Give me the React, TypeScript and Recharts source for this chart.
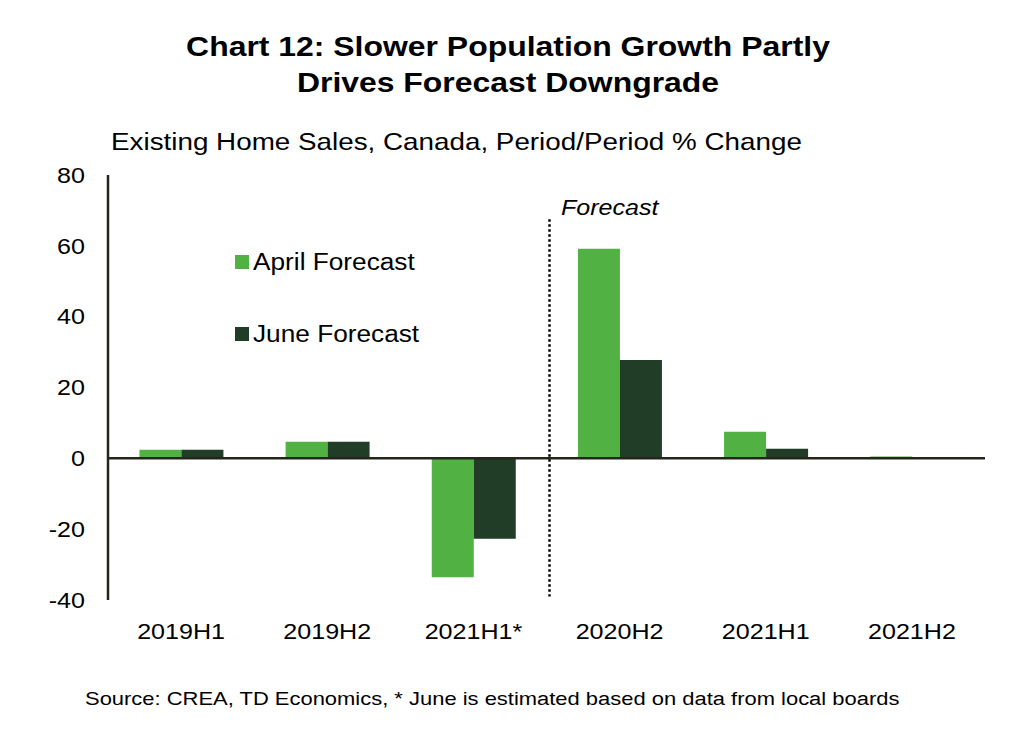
import { Bar, BarChart, Legend, ReferenceLine, XAxis, YAxis } from 'recharts';

const categories = ['2019H1', '2019H2', '2021H1*', '2020H2', '2021H1', '2021H2'];
const aprilForecast = [2.4, 4.7, -33.6, 59.2, 7.5, 0.5];
const juneForecast = [2.4, 4.7, -22.7, 27.8, 2.7, 0.1];
const yTicks = [-40, -20, 0, 20, 40, 60, 80];

const APRIL = '#52B143';
const JUNE = '#213C27';
const AXIS = '#25261A';
const FONT = '"Liberation Sans", Arial, sans-serif';
// the reference text is a little wider than Liberation Sans at the same height
const STRETCH = 1.14;

const data = categories.map((c, i) => ({ name: c, april: aprilForecast[i], june: juneForecast[i] }));

function XTick({ x, y, payload }: { x?: number; y?: number; payload?: { value: string } }) {
  return (
    <text
      transform={`translate(${x},${y}) scale(${STRETCH},1)`}
      textAnchor="middle"
      dy="0.71em"
      fontSize={22}
      fontFamily={FONT}
      fill="#000"
    >
      {payload?.value}
    </text>
  );
}

function YTick({ x, y, payload }: { x?: number; y?: number; payload?: { value: number } }) {
  return (
    <text
      transform={`translate(${x},${y}) scale(${STRETCH},1)`}
      textAnchor="end"
      dy="0.355em"
      fontSize={22}
      fontFamily={FONT}
      fill="#000"
    >
      {payload?.value}
    </text>
  );
}

function LegendBox() {
  const items = [
    { label: 'April Forecast', color: APRIL },
    { label: 'June Forecast', color: JUNE },
  ];
  return (
    <div style={{ fontFamily: FONT, fontSize: 23, color: '#000' }}>
      {items.map((it) => (
        <div key={it.label} style={{ display: 'flex', alignItems: 'center', height: 28, marginBottom: 44 }}>
          <span style={{ width: 14, height: 14, background: it.color, marginRight: 4, flex: 'none' }} />
          <span style={{ display: 'inline-block', transform: `scaleX(${STRETCH})`, transformOrigin: 'left' }}>
            {it.label}
          </span>
        </div>
      ))}
    </div>
  );
}

const stretchLeft = { transform: `scaleX(${STRETCH})`, transformOrigin: 'left', whiteSpace: 'nowrap' as const };

export default function App() {
  return (
    <div
      style={{
        position: 'absolute',
        left: 0,
        top: 0,
        width: 1032,
        height: 734,
        background: '#fff',
        fontFamily: FONT,
        color: '#000',
      }}
    >
      <div
        style={{
          position: 'absolute',
          left: 0,
          width: 1016,
          top: 29,
          textAlign: 'center',
          fontWeight: 'bold',
          fontSize: 28,
          lineHeight: '36px',
          transform: `scaleX(${STRETCH})`,
          transformOrigin: '508px 0',
        }}
      >
        Chart 12: Slower Population Growth Partly
        <br />
        Drives Forecast Downgrade
      </div>
      <div style={{ position: 'absolute', left: 111, top: 128, fontSize: 24.4, ...stretchLeft }}>
        Existing Home Sales, Canada, Period/Period % Change
      </div>
      <div style={{ position: 'absolute', left: 561, top: 195, fontSize: 22, fontStyle: 'italic', ...stretchLeft }}>
        Forecast
      </div>
      <BarChart
        width={1032}
        height={734}
        data={data}
        margin={{ top: 175, right: 47, bottom: 84, left: 48 }}
        barCategoryGap="21.5%"
        barGap={0}
      >
        <XAxis
          dataKey="name"
          axisLine={false}
          tickLine={false}
          tickSize={0}
          tickMargin={23}
          height={50}
          tick={<XTick />}
        />
        <YAxis
          domain={[-40, 80]}
          ticks={yTicks}
          width={60}
          tickLine={false}
          tickSize={0}
          tickMargin={23}
          axisLine={{ stroke: AXIS, strokeWidth: 2.5 }}
          tick={<YTick />}
        />
        <Legend
          layout="vertical"
          verticalAlign="middle"
          align="center"
          content={<LegendBox />}
          wrapperStyle={{ position: 'absolute', left: 235, top: 248, width: 220 }}
        />
        <Bar dataKey="april" name="April Forecast" fill={APRIL} isAnimationActive={false} />
        <Bar dataKey="june" name="June Forecast" fill={JUNE} isAnimationActive={false} />
        <ReferenceLine y={0} stroke={AXIS} strokeWidth={2.5} />
        <ReferenceLine
          segment={[
            { x: '2021H1*', y: 67.5 },
            { x: '2021H1*', y: -39 },
          ]}
          position="end"
          stroke="#000"
          strokeWidth={2.5}
          strokeDasharray="2.5 2.5"
          transform="translate(3,0)"
        />
      </BarChart>
      <div style={{ position: 'absolute', left: 85, top: 688, fontSize: 19.25, ...stretchLeft }}>
        Source: CREA, TD Economics, * June is estimated based on data from local boards
      </div>
    </div>
  );
}
